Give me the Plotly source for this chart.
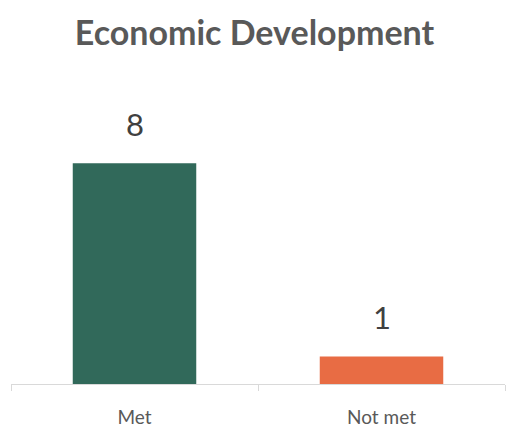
import plotly.graph_objects as go

categories = ["Met", "Not met"]
values = [8, 1]
colors = ["#31695A", "#E86C44"]

fig = go.Figure()
fig.add_trace(go.Bar(x=categories, y=values, marker=dict(color=colors, line=dict(width=0)),
                     hoverinfo="skip"))

for c, v in zip(categories, values):
    fig.add_annotation(x=c, y=v, xref="x", yref="y", text=str(v), showarrow=False,
                       yanchor="bottom", yshift=18,
                       font=dict(family="Lato, Open Sans, sans-serif", size=31, color="#404040"))

fig.update_layout(
    width=509, height=429,
    margin=dict(l=11, r=4, t=108, b=45),
    paper_bgcolor="white", plot_bgcolor="white",
    bargap=0.5,
    showlegend=False,
    title=dict(text="<b>Economic Development</b>", x=0.5, xanchor="center", y=1 - 33/429, yanchor="middle",
               font=dict(family="Lato, Open Sans, sans-serif", size=34, color="#595959")),
    xaxis=dict(showline=True, linecolor="#D9D9D9", linewidth=1, ticks="outside", tickson="boundaries",
               ticklen=6, tickcolor="#D9D9D9", showgrid=False, ticklabelstandoff=16, automargin=False,
               tickfont=dict(family="Lato, Open Sans, sans-serif", size=19, color="#595959")),
    yaxis=dict(range=[0, 10], visible=False, showgrid=False, zeroline=False, automargin=False),
)

fig.write_html("out.html")
